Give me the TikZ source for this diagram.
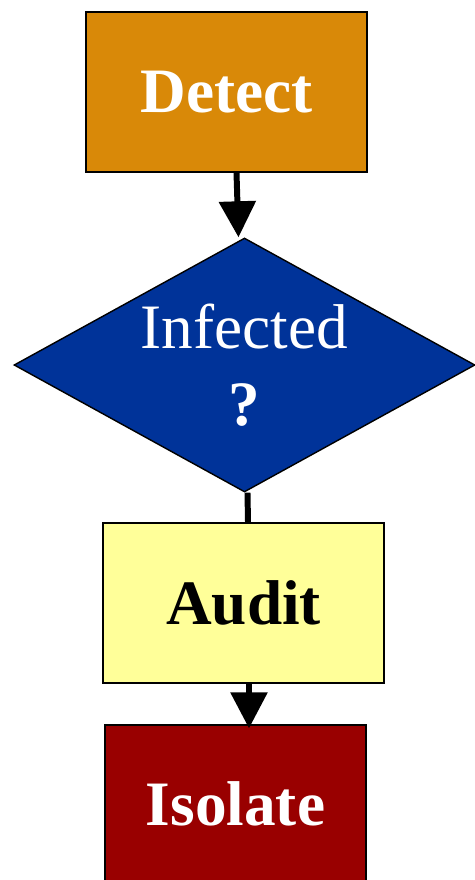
\documentclass[tikz,border=0pt]{standalone}
\usepackage{fontspec}
\setmainfont{Liberation Serif}
\usetikzlibrary{shapes,arrows.meta,positioning}
\definecolor{morange}{HTML}{D98908}
\definecolor{mnavy}{HTML}{003399}
\definecolor{myellow}{HTML}{FFFF99}
\definecolor{mdred}{HTML}{990000}
\tikzstyle{box}=[rectangle, draw=black, line width=0.8pt, minimum width=5.62cm, minimum height=3.2cm, inner sep=0pt, font=\fontsize{36}{44}\selectfont\bfseries]
\tikzstyle{choice}=[diamond, shape aspect=1.815, draw=black, line width=0.8pt, minimum width=9.22cm, minimum height=5.08cm, inner sep=0pt, align=center, text=white, fill=mnavy, font=\fontsize{36}{44}\selectfont]
\tikzstyle{l1}=[line width=3.4pt]
\tikzstyle{flow}=[l1, -{Triangle[length=0.72cm, width=0.72cm]}]

\begin{document}
\begin{tikzpicture}
    \useasboundingbox (0,0) rectangle (9.5,-17.6);
    \node (detect) [box, fill=morange, text=white] at (4.53,-1.84) {Detect};
    \node (infected) [choice] at (4.89,-7.3) {Infected\\\textbf{?}};
    \node (audit) [box, fill=myellow] at (4.87,-12.06) {Audit};
    \node (isolate) [box, fill=mdred, text=white, minimum width=5.22cm, minimum height=3.16cm] at (4.71,-16.08) {Isolate};

    \draw[flow] ([xshift=0.2cm]detect.south) -- ([xshift=-0.12cm]infected.north);
    \draw[l1] ([xshift=0.06cm]infected.south) -- ([xshift=0.09cm]audit.north);
    \draw[flow, shorten >=-0.08cm] ([xshift=0.11cm]audit.south) -- ([xshift=0.27cm]isolate.north);
\end{tikzpicture}
\end{document}
